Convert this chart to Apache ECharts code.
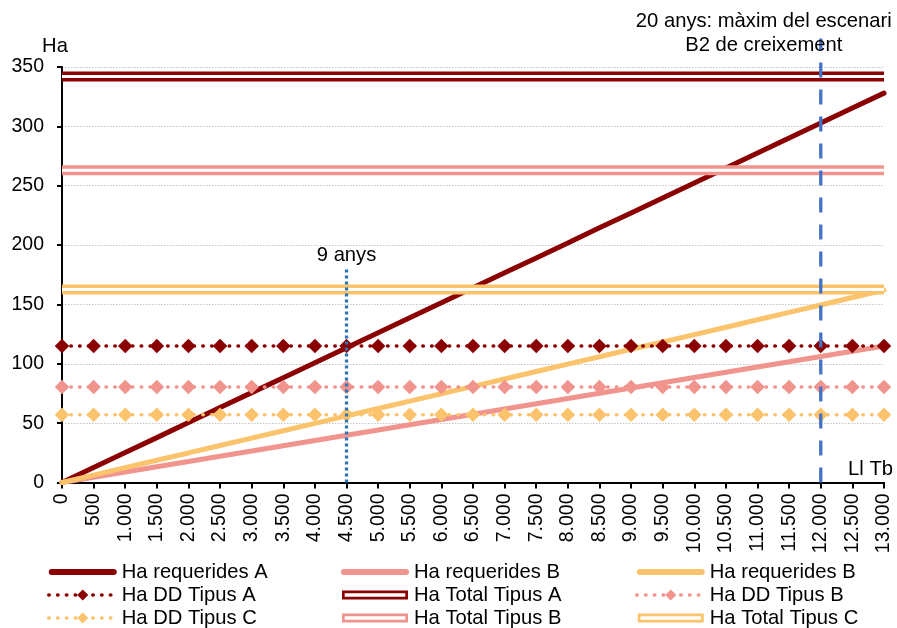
<!DOCTYPE html>
<html>
<head>
<meta charset="utf-8">
<script src="https://cdn.jsdelivr.net/npm/echarts@6/dist/echarts.min.js"></script>
<style>
html,body{margin:0;padding:0;background:#fff;}
#chart{width:897px;height:628px;}
</style>
</head>
<body>
<div id="chart"></div>
<script>
// ---- data ----
const categories = ['0','500','1.000','1.500','2.000','2.500','3.000','3.500','4.000','4.500','5.000','5.500','6.000','6.500','7.000','7.500','8.000','8.500','9.000','9.500','10.000','10.500','11.000','11.500','12.000','12.500','13.000'];
const reqA = [0,12.6,25.2,37.8,50.5,63.1,75.7,88.3,100.9,113.5,126.2,138.8,151.4,164.0,176.6,189.2,201.8,214.5,227.1,239.7,252.3,264.9,277.5,290.2,302.8,315.4,328.0];
const reqB = [0,4.4,8.8,13.3,17.7,22.1,26.5,31.0,35.4,39.8,44.2,48.7,53.1,57.5,61.9,66.3,70.8,75.2,79.6,84.0,88.5,92.9,97.3,101.7,106.2,110.6,115.0];
const reqC = [0,6.2,12.5,18.7,24.9,31.2,37.4,43.6,49.8,56.1,62.3,68.5,74.8,81.0,87.2,93.5,99.7,105.9,112.2,118.4,124.6,130.8,137.1,143.3,149.5,155.8,162.0];
const ddA = [115,115,115,115,115,115,115,115,115,115,115,115,115,115,115,115,115,115,115,115,115,115,115,115,115,115,115];
const ddB = [80.5,80.5,80.5,80.5,80.5,80.5,80.5,80.5,80.5,80.5,80.5,80.5,80.5,80.5,80.5,80.5,80.5,80.5,80.5,80.5,80.5,80.5,80.5,80.5,80.5,80.5,80.5];
const ddC = [57,57,57,57,57,57,57,57,57,57,57,57,57,57,57,57,57,57,57,57,57,57,57,57,57,57,57];
const totA = [342,342,342,342,342,342,342,342,342,342,342,342,342,342,342,342,342,342,342,342,342,342,342,342,342,342,342];
const totB = [263,263,263,263,263,263,263,263,263,263,263,263,263,263,263,263,263,263,263,263,263,263,263,263,263,263,263];
const totC = [162.5,162.5,162.5,162.5,162.5,162.5,162.5,162.5,162.5,162.5,162.5,162.5,162.5,162.5,162.5,162.5,162.5,162.5,162.5,162.5,162.5,162.5,162.5,162.5,162.5,162.5,162.5];
const marker9 = { category: '4.500', top: 180, text: '9 anys' };
const marker20 = { category: '12.000', top: 374, text: '20 anys: màxim del escenari\nB2 de creixement' };
const yTicks = { min: 0, max: 350, interval: 50 };
const names = {
  reqA: 'Ha requerides A', reqB: 'Ha requerides B', reqC: 'Ha requerides B ',
  ddA: 'Ha DD Tipus A', ddB: 'Ha DD Tipus B', ddC: 'Ha DD Tipus C',
  totA: 'Ha Total Tipus A', totB: 'Ha Total Tipus B', totC: 'Ha Total Tipus C'
};
const axisTitleY = 'Ha';
const axisTitleX = 'Ll Tb';

// ---- style ----
const C_RED = '#8B0000', C_PINK = '#F0948D', C_YEL = '#FBC36C';
const FONT = "'Liberation Sans', Arial, sans-serif";
const FS = 19.5;
const FS_L = 20.2;
const DOT = [0.5, 8.3];

function reqSeries(name, data, color) {
  return { name, type: 'line', data, symbol: 'none', lineStyle: { color, width: 5, cap: 'round' }, itemStyle: { color }, z: 2 };
}
function ddSeries(name, data, color) {
  return { name, type: 'line', data, symbol: 'diamond', symbolSize: 14.5, showSymbol: true, showAllSymbol: true,
    lineStyle: { color, width: 3.5, type: DOT, cap: 'round' }, itemStyle: { color }, z: 3 };
}
function totSeries(name, data, color) {
  return [
    { name, type: 'line', data, symbol: 'none', lineStyle: { color, width: 10 }, itemStyle: { color }, z: 3 },
    { name: name + '_inner', type: 'line', data, symbol: 'none', lineStyle: { color: '#ffffff', width: 3 }, itemStyle: { color: '#fff' }, z: 3 }
  ];
}
function vSeries(m, color, dash, lblOpt) {
  return {
    name: m.text + '_v', type: 'line', clip: false, z: 4, symbol: 'none', showAllSymbol: true,
    lineStyle: { color, width: 3.3, type: dash },
    itemStyle: { color },
    data: [
      [m.category, 0],
      { value: [m.category, m.top], symbol: 'circle', symbolSize: 0.1,
        label: Object.assign({ show: true, position: 'top', formatter: m.text, color: '#000',
          fontFamily: FONT, fontSize: FS_L }, lblOpt) }
    ]
  };
}

const ICON_REQ = 'path://M0,0M68,14M3,4L65,4A3,3,0,0,1,65,10L3,10A3,3,0,0,1,3,4Z';
const ICON_TOT = 'path://M0,0M68,14M1,2.5L67,2.5L67,11.5L1,11.5ZM3.7,5.2L3.7,8.8L64.3,8.8L64.3,5.2Z';

function legendItem(name, color, kind) {
  if (kind === 'req') return { name, icon: ICON_REQ, itemStyle: { color, borderWidth: 0 } };
  if (kind === 'tot') return { name, icon: ICON_TOT, itemStyle: { color, borderWidth: 0 } };
  return { name, itemStyle: { color, borderWidth: 0 }, lineStyle: { color, width: 3.5, type: DOT, cap: 'round' } };
}
function legendCol(left, items) {
  return {
    orient: 'vertical', left, top: 562, padding: 0, itemWidth: 68, itemHeight: 14, itemGap: 3,
    selectedMode: false, symbolKeepAspect: false,
    textStyle: { fontFamily: FONT, fontSize: FS_L, color: '#000', lineHeight: 20 },
    formatter: n => n.trim(),
    data: items
  };
}

const option = {
  animation: false,
  backgroundColor: '#fff',
  textStyle: { fontFamily: FONT },
  grid: { left: 62, right: 13, top: 67, bottom: 145.5, containLabel: false },
  xAxis: {
    type: 'category', data: categories, boundaryGap: false,
    name: axisTitleX, nameLocation: 'end', nameGap: 9,
    nameTextStyle: { fontFamily: FONT, fontSize: FS_L, color: '#000', align: 'right', verticalAlign: 'bottom', padding: [0, 0, 3, 0] },
    axisLine: { lineStyle: { color: '#000', width: 2 } },
    axisTick: { show: true, alignWithLabel: true, interval: 0, length: 6, lineStyle: { color: '#000', width: 2 } },
    axisLabel: { interval: 0, rotate: 90, margin: 11, fontFamily: FONT, fontSize: FS, color: '#000' },
    splitLine: { show: false }
  },
  yAxis: {
    type: 'value', min: yTicks.min, max: yTicks.max, interval: yTicks.interval,
    name: axisTitleY, nameLocation: 'end', nameGap: 11,
    nameTextStyle: { fontFamily: FONT, fontSize: FS_L, color: '#000', align: 'center', padding: [0, 14, 0, 0] },
    axisLine: { show: true, lineStyle: { color: '#000', width: 2 } },
    axisTick: { show: true, length: 5, lineStyle: { color: '#000', width: 2 } },
    axisLabel: { margin: 18, fontFamily: FONT, fontSize: FS, color: '#000' },
    splitLine: { show: true, lineStyle: { color: '#C4C4C4', width: 1, type: [1.5, 1.5] } }
  },
  legend: [
    legendCol(47, [legendItem(names.reqA, C_RED, 'req'), legendItem(names.ddA, C_RED, 'dd'), legendItem(names.ddC, C_YEL, 'dd')]),
    legendCol(341, [legendItem(names.reqB, C_PINK, 'req'), legendItem(names.totA, C_RED, 'tot'), legendItem(names.totB, C_PINK, 'tot')]),
    legendCol(635, [legendItem(names.reqC, C_YEL, 'req'), legendItem(names.ddB, C_PINK, 'dd'), legendItem(names.totC, C_YEL, 'tot')])
  ],
  series: [
    reqSeries(names.reqA, reqA, C_RED),
    reqSeries(names.reqB, reqB, C_PINK),
    reqSeries(names.reqC, reqC, C_YEL),
    ddSeries(names.ddA, ddA, C_RED),
    ...totSeries(names.totA, totA, C_RED),
    ddSeries(names.ddB, ddB, C_PINK),
    ddSeries(names.ddC, ddC, C_YEL),
    ...totSeries(names.totB, totB, C_PINK),
    ...totSeries(names.totC, totC, C_YEL),
    vSeries(marker9, '#2E75B6', [3, 3], { distance: 3 }),
    vSeries(marker20, '#4472C4', [15, 12], { distance: -19, lineHeight: 24, padding: [0, 114, 0, 0] })
  ]
};

const chart = echarts.init(document.getElementById('chart'), null, { renderer: 'canvas' });
chart.setOption(option);
</script>
</body>
</html>
